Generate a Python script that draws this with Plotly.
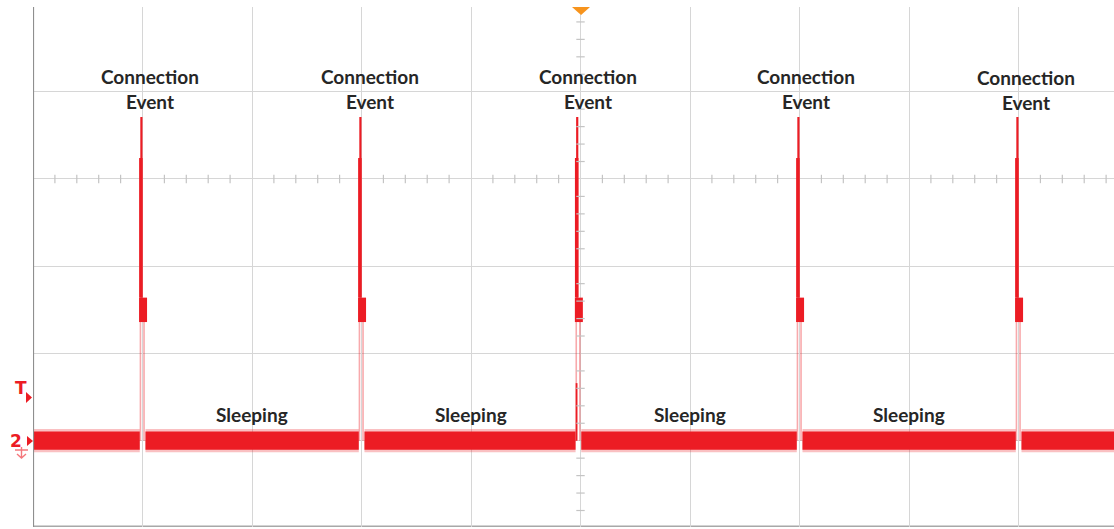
import plotly.graph_objects as go

# Oscilloscope capture of a BLE peripheral's current draw: periodic connection
# events separated by sleep. Units are screen divisions (x: time, y: level).
event_times = [0.99, 2.99, 4.97, 6.99, 8.99]        # start of each connection event
event_labels = ["Connection<br>Event"] * 5
label_x = [1.065, 3.075, 5.07, 7.055, 9.065]
label_levels = [1.03, 1.03, 1.03, 1.03, 1.015]
sleep_centers = [2.0, 4.0, 6.0, 8.0]
sleep_labels = ["Sleeping"] * 4

baseline_level = -3.0      # sleep current level
noise_pp = 0.21            # peak-to-peak noise on the sleep level
peak_level = 0.71          # radio burst peak
burst_shoulder = 0.24      # where the burst widens
plateau_hi = -1.36         # processing plateau, top
plateau_lo = -1.64         # processing plateau, bottom
pre_pulse = [None, None, -2.34, None, None]   # early wake-up step seen on the trigger event

X_MAX = 9.872
Y_MIN, Y_MAX = -3.989, 1.971
PX_PER_DIV_Y = 87.25
PLOT_W_PX = 1081
PLOT_H_PX = 520

RED = "#ec1c24"
PINK = "rgba(236,28,36,0.38)"
GRID = "#d6d6d6"

fig = go.Figure()

# sleep-level band, broken at each event
bx = [0.0]
for t in event_times:
    bx += [t - 0.015, None, t + 0.037]
bx += [X_MAX + 0.1]
by = [baseline_level if v is not None else None for v in bx]
core_w = noise_pp * PX_PER_DIV_Y
fig.add_trace(go.Scatter(x=bx, y=by, mode="lines", connectgaps=False,
                         line=dict(color="rgba(236,28,36,0.28)", width=core_w + 5),
                         hoverinfo="skip", showlegend=False))
fig.add_trace(go.Scatter(x=bx, y=by, mode="lines", connectgaps=False,
                         line=dict(color=RED, width=core_w),
                         hoverinfo="skip", showlegend=False))

# faint rise / fall edges of each event
ex, ey = [], []
for t in event_times:
    ex += [t - 0.009, t - 0.009, None, t + 0.024, t + 0.024, None]
    ey += [baseline_level, plateau_lo, None, plateau_lo, baseline_level, None]
fig.add_trace(go.Scatter(x=ex, y=ey, mode="lines", line=dict(color=PINK, width=1.6),
                         hoverinfo="skip", showlegend=False))

# early wake-up step
px_, py_ = [], []
for t, lvl in zip(event_times, pre_pulse):
    if lvl is not None:
        px_ += [t - 0.006, t - 0.006, None]
        py_ += [baseline_level, lvl, None]
fig.add_trace(go.Scatter(x=px_, y=py_, mode="lines", line=dict(color=RED, width=1.8),
                         hoverinfo="skip", showlegend=False))

# processing plateau
plx, ply = [], []
for t in event_times:
    plx += [t + 0.015, t + 0.015, None]
    ply += [plateau_lo, plateau_hi, None]
fig.add_trace(go.Scatter(x=plx, y=ply, mode="lines", line=dict(color=RED, width=8),
                         hoverinfo="skip", showlegend=False))

# radio burst: wider lower part, narrow tip
wx, wy = [], []
for t in event_times:
    wx += [t - 0.005, t - 0.005, None]
    wy += [plateau_hi, burst_shoulder, None]
fig.add_trace(go.Scatter(x=wx, y=wy, mode="lines", line=dict(color=RED, width=3.5),
                         hoverinfo="skip", showlegend=False))
nx, ny = [], []
for t in event_times:
    nx += [t, t, None]
    ny += [plateau_hi, peak_level, None]
fig.add_trace(go.Scatter(x=nx, y=ny, mode="lines", line=dict(color=RED, width=2.2),
                         hoverinfo="skip", showlegend=False))

# minor ticks along the centre graticule lines
hx = [i * 0.2 for i in range(0, 50) if i % 5 != 0]
fig.add_trace(go.Scatter(x=hx, y=[0] * len(hx), mode="markers",
                         marker=dict(symbol="line-ns", size=6, line=dict(color="#c4c4c4", width=1.2)),
                         hoverinfo="skip", showlegend=False))
vy = [-4 + i * 0.2 for i in range(0, 30) if i % 5 != 0]
fig.add_trace(go.Scatter(x=[5] * len(vy), y=vy, mode="markers",
                         marker=dict(symbol="line-ew", size=6, line=dict(color="#c4c4c4", width=1.2)),
                         hoverinfo="skip", showlegend=False))

# text labels
for lx, lab, lv in zip(label_x, event_labels, label_levels):
    fig.add_annotation(x=lx, y=lv, text=lab, showarrow=False, xanchor="center",
                       yanchor="middle",
                       font=dict(family="Lato", size=19, color="#262626", weight="bold"))
for c, lab in zip(sleep_centers, sleep_labels):
    fig.add_annotation(x=c, y=-2.705, text=lab, showarrow=False, xanchor="center",
                       yanchor="middle",
                       font=dict(family="Lato", size=19, color="#262626", weight="bold"))


def px_x(p):
    """pixel column -> paper x"""
    return (p - 33) / PLOT_W_PX


def px_y(p):
    """pixel row -> paper y"""
    return (527 - p) / PLOT_H_PX


# channel / trigger markers in the left margin
fig.add_annotation(xref="paper", yref="paper", x=px_x(21), y=px_y(388), text="<b>T</b>",
                   showarrow=False, xanchor="center", yanchor="middle",
                   font=dict(family="DejaVu Sans", size=17, color=RED))
fig.add_annotation(xref="paper", yref="paper", x=px_x(15.5), y=px_y(441), text="<b>2</b>",
                   showarrow=False, xanchor="center", yanchor="middle",
                   font=dict(family="DejaVu Sans", size=17, color=RED))
fig.add_shape(type="path", xref="paper", yref="paper",
              path=f"M {px_x(26)} {px_y(392)} L {px_x(32)} {px_y(397.5)} L {px_x(26)} {px_y(403)} Z",
              fillcolor=RED, line=dict(width=0))
fig.add_shape(type="path", xref="paper", yref="paper",
              path=f"M {px_x(27)} {px_y(436)} L {px_x(33)} {px_y(441)} L {px_x(27)} {px_y(446)} Z",
              fillcolor=RED, line=dict(width=0))
fig.add_shape(type="path", xref="paper", yref="paper",
              path=(f"M {px_x(15)} {px_y(450)} L {px_x(28)} {px_y(450)} "
                    f"M {px_x(21.5)} {px_y(447)} L {px_x(21.5)} {px_y(458)} "
                    f"M {px_x(17)} {px_y(454)} L {px_x(21.5)} {px_y(458)} L {px_x(26)} {px_y(454)}"),
              line=dict(color="rgba(236,28,36,0.6)", width=1.4))

# trigger position marker at top of graticule
fig.add_shape(type="path", xref="x", yref="y",
              path="M 4.922 1.971 L 5.087 1.971 L 5.005 1.88 Z",
              fillcolor="#f7941d", line=dict(width=0), layer="above")

# graticule borders
fig.add_shape(type="line", xref="x", yref="y", x0=0, x1=0, y0=Y_MIN, y1=Y_MAX,
              line=dict(color="#8f8f8f", width=2.2), layer="above")
fig.add_shape(type="line", xref="x", yref="y", x0=0, x1=X_MAX, y0=Y_MIN + 0.01, y1=Y_MIN + 0.01,
              line=dict(color="#a8a8a8", width=1.5), layer="below")

fig.update_layout(
    width=1114, height=529,
    margin=dict(l=33, r=0, t=7, b=2),
    paper_bgcolor="white", plot_bgcolor="white",
    xaxis=dict(range=[0, X_MAX], dtick=1, tick0=0, showgrid=True, gridcolor=GRID, gridwidth=1.2,
               showticklabels=False, zeroline=False, showline=False, ticks=""),
    yaxis=dict(range=[Y_MIN, Y_MAX], dtick=1, tick0=0, showgrid=True, gridcolor=GRID, gridwidth=1.2,
               showticklabels=False, zeroline=False, showline=False, ticks=""),
    showlegend=False,
)

fig.write_html("out.html")
